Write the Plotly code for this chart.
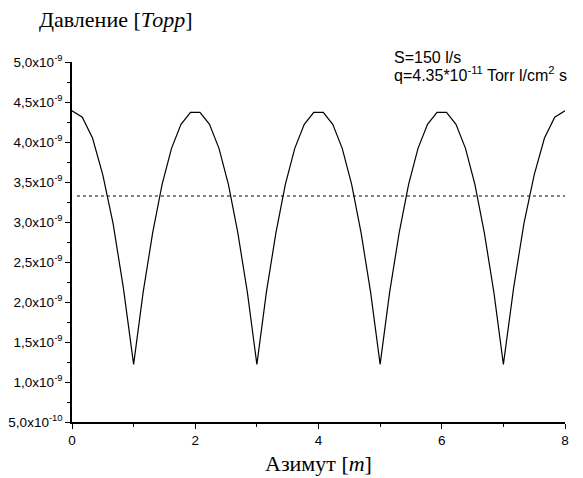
import plotly.graph_objects as go

# Azimuth positions (m) and pressure values (units of 1e-9 Torr)
azimuth = [
    0.0, 0.167, 0.333, 0.5, 0.667, 0.833,
    1.0, 1.154, 1.308, 1.462, 1.615, 1.769, 1.923, 2.077, 2.231, 2.385, 2.538, 2.692, 2.846,
    3.0, 3.154, 3.308, 3.462, 3.615, 3.769, 3.923, 4.077, 4.231, 4.385, 4.538, 4.692, 4.846,
    5.0, 5.154, 5.308, 5.462, 5.615, 5.769, 5.923, 6.077, 6.231, 6.385, 6.538, 6.692, 6.846,
    7.0, 7.167, 7.333, 7.5, 7.667, 7.833, 8.0,
]
pressure = [
    4.39, 4.31, 4.05, 3.59, 2.98, 2.18,
    1.22, 2.12, 2.86, 3.47, 3.92, 4.22, 4.37, 4.37, 4.22, 3.92, 3.47, 2.86, 2.12,
    1.22, 2.12, 2.86, 3.47, 3.92, 4.22, 4.37, 4.37, 4.22, 3.92, 3.47, 2.86, 2.12,
    1.22, 2.12, 2.86, 3.47, 3.92, 4.22, 4.37, 4.37, 4.22, 3.92, 3.47, 2.86, 2.12,
    1.22, 2.18, 2.98, 3.59, 4.05, 4.31, 4.39,
]
mean_pressure = 3.325
mean_x = [0.08, 8.0]

y_tickvals = [0.5, 1.0, 1.5, 2.0, 2.5, 3.0, 3.5, 4.0, 4.5, 5.0]
y_ticktext = ["5,0x10<sup>-10</sup>", "1,0x10<sup>-9</sup>", "1,5x10<sup>-9</sup>",
              "2,0x10<sup>-9</sup>", "2,5x10<sup>-9</sup>", "3,0x10<sup>-9</sup>",
              "3,5x10<sup>-9</sup>", "4,0x10<sup>-9</sup>", "4,5x10<sup>-9</sup>",
              "5,0x10<sup>-9</sup>"]
y_minor = [0.75, 1.25, 1.75, 2.25, 2.75, 3.25, 3.75, 4.25, 4.75]
x_tickvals = [0, 2, 4, 6, 8]
x_minor = [1, 3, 5, 7]

fig = go.Figure()
fig.add_trace(go.Scatter(x=azimuth, y=pressure, mode="lines",
                         line=dict(color="black", width=1.2), showlegend=False))
fig.add_trace(go.Scatter(x=mean_x, y=[mean_pressure, mean_pressure], mode="lines",
                         line=dict(color="black", width=1, dash="dot"), showlegend=False))

axis_common = dict(showline=True, linecolor="black", linewidth=1.5, showgrid=False,
                   zeroline=False, ticks="outside", ticklen=5, tickwidth=1.2,
                   tickcolor="black", mirror=False, automargin=False,
                   tickfont=dict(family="Liberation Sans, Arial", size=13.5, color="black"))

fig.update_xaxes(range=[0, 8], tickmode="array", tickvals=x_tickvals,
                 ticktext=[str(v) for v in x_tickvals],
                 minor=dict(tickvals=x_minor, ticks="outside", ticklen=3, tickcolor="black"),
                 **axis_common)
fig.update_yaxes(range=[0.5, 5.0], tickmode="array", tickvals=y_tickvals,
                 ticktext=y_ticktext,
                 minor=dict(tickvals=y_minor, ticks="outside", ticklen=3, tickcolor="black"),
                 **axis_common)

fig.add_annotation(text="Давление [<i>Торр</i>]", xref="paper", yref="paper",
                   x=-0.072, y=1.117, xanchor="left", yanchor="middle", showarrow=False,
                   font=dict(family="Liberation Serif, Times New Roman", size=22, color="black"))
fig.add_annotation(text="Азимут [<i>m</i>]", xref="paper", yref="paper",
                   x=0.5, y=-0.115, xanchor="center", yanchor="middle", showarrow=False,
                   font=dict(family="Liberation Serif, Times New Roman", size=22, color="black"))
fig.add_annotation(text="S=150 l/s", xref="paper", yref="paper",
                   x=0.649, y=1.012, xanchor="left", yanchor="middle", showarrow=False,
                   font=dict(family="Liberation Sans, Arial", size=16, color="black"))
fig.add_annotation(text="q=4.35*10<sup>-11</sup> Torr l/cm<sup>2</sup> s", xref="paper", yref="paper",
                   x=0.649, y=0.966, xanchor="left", yanchor="middle", showarrow=False,
                   font=dict(family="Liberation Sans, Arial", size=16, color="black"))

fig.update_layout(width=575, height=470, margin=dict(l=64, r=18, t=54, b=56),
                  plot_bgcolor="white", paper_bgcolor="white")

fig.write_html("out.html")
